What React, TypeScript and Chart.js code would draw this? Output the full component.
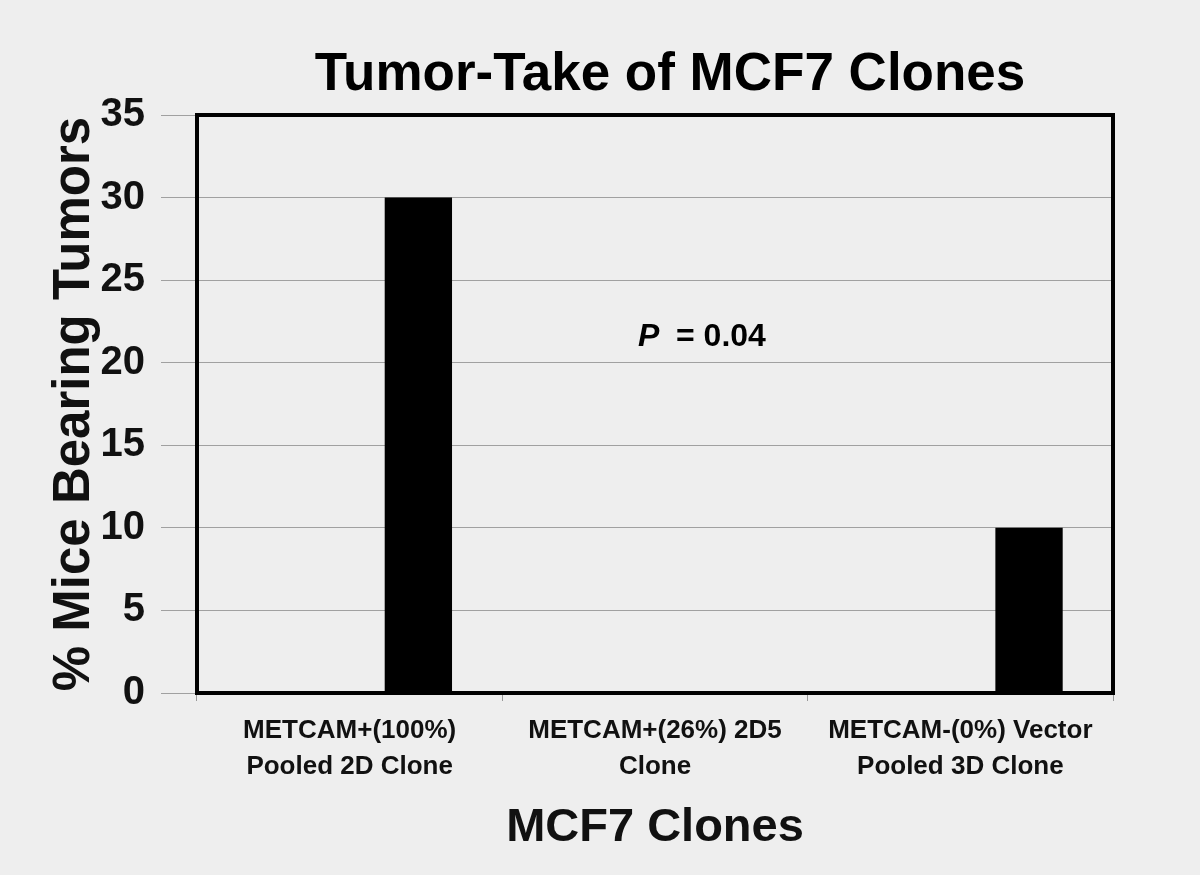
import React, { useEffect, useRef } from "react";
import { Chart, registerables } from "chart.js";

Chart.register(...registerables);

const chartTitle = "Tumor-Take of MCF7 Clones";
const xAxisTitle = "MCF7 Clones";
const yAxisTitle = "% Mice Bearing Tumors";
const categories: string[][] = [
  ["METCAM+(100%)", "Pooled 2D Clone"],
  ["METCAM+(26%) 2D5", "Clone"],
  ["METCAM-(0%) Vector", "Pooled 3D Clone"],
];
const emptySeries: (number | null)[] = [null, null, null];
const tumorTake: number[] = [30, 0, 10];
const yMin = 0;
const yMax = 35;
const yStep = 5;
const pValueText = "= 0.04";
const pValueY = 21;

const FONT = "'Liberation Sans', Arial, Helvetica, sans-serif";
const BG = "#eeeeee";

const decorPlugin = {
  id: "decor",
  beforeDraw(chart: any) {
    const { ctx, width, height } = chart;
    ctx.save();
    ctx.fillStyle = BG;
    ctx.fillRect(0, 0, width, height);
    ctx.restore();
  },
  afterDraw(chart: any) {
    const { ctx, chartArea } = chart;
    const xs = chart.scales.x;
    const ys = chart.scales.y;
    ctx.save();
    // frame
    ctx.strokeStyle = "#000";
    ctx.lineWidth = 4;
    ctx.strokeRect(chartArea.left, chartArea.top, chartArea.right - chartArea.left, chartArea.bottom - chartArea.top);
    // title
    ctx.fillStyle = "#000";
    ctx.font = `bold 53px ${FONT}`;
    ctx.textAlign = "center";
    ctx.textBaseline = "alphabetic";
    ctx.fillText(chartTitle, (chartArea.left + chartArea.right) / 2 + 15, chartArea.top - 25);
    // P annotation
    const px = xs.getPixelForValue(1) - 17;
    const py = ys.getPixelForValue(pValueY);
    ctx.textAlign = "left";
    ctx.font = `italic bold 32px ${FONT}`;
    ctx.fillText("P", px, py);
    ctx.font = `bold 32px ${FONT}`;
    ctx.fillText(pValueText, px + 38, py);
    ctx.restore();
  },
};

export default function App() {
  const ref = useRef<HTMLCanvasElement | null>(null);
  useEffect(() => {
    document.body.style.margin = "0";
    document.body.style.background = BG;
    const chart = new Chart(ref.current as HTMLCanvasElement, {
      type: "bar",
      data: {
        labels: categories,
        datasets: [
          { label: "", data: emptySeries, backgroundColor: "#000" },
          { label: "Tumor take", data: tumorTake, backgroundColor: "#000", borderWidth: 0 },
        ],
      },
      options: {
        responsive: false,
        animation: false,
        events: [],
        layout: { padding: { left: 0, top: 115, right: 87, bottom: 0 } },
        datasets: { bar: { categoryPercentage: 0.9, barPercentage: 0.49 } },
        plugins: { legend: { display: false }, tooltip: { enabled: false }, title: { display: false } },
        scales: {
          x: {
            offset: true,
            grid: { offset: true, drawOnChartArea: false, drawTicks: true, tickLength: 8, color: "#999", lineWidth: 1 },
            border: { display: false },
            ticks: {
              color: "#111",
              font: { family: FONT, size: 26, weight: "bold", lineHeight: 1.38 },
              padding: 12,
              maxRotation: 0,
              autoSkip: false,
            },
            title: {
              display: true,
              text: xAxisTitle,
              color: "#111",
              font: { family: FONT, size: 47, weight: "bold", lineHeight: 1.2 },
              padding: { top: 0, bottom: 19 },
            },
            afterFit: (s: any) => {
              s.height = 182;
            },
          },
          y: {
            min: yMin,
            max: yMax,
            grid: { color: "#a0a0a0", lineWidth: 1, drawTicks: true, tickLength: 36 },
            border: { display: false },
            ticks: {
              stepSize: yStep,
              color: "#111",
              font: { family: FONT, size: 40, weight: "bold" },
              padding: 16,
            },
            title: {
              display: true,
              text: yAxisTitle,
              color: "#111",
              font: { family: FONT, size: 51, weight: "bold", lineHeight: 1.2 },
              padding: { top: 44, bottom: 0 },
            },
            afterFit: (s: any) => {
              s.width = 197;
            },
          },
        },
      },
      plugins: [decorPlugin],
    });
    return () => chart.destroy();
  }, []);
  return (
    <div style={{ position: "fixed", left: 0, top: 0, width: 1200, height: 875, background: BG }}>
      <canvas ref={ref} width={1200} height={875} style={{ width: 1200, height: 875, display: "block" }} />
    </div>
  );
}
